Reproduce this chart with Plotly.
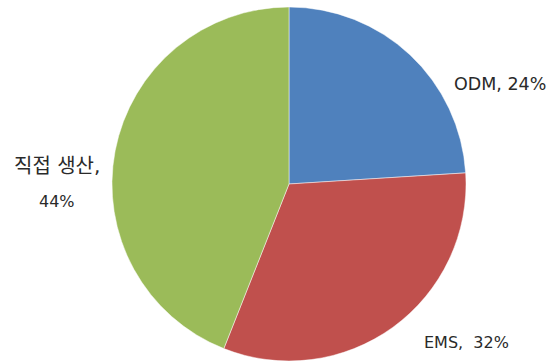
import plotly.graph_objects as go

labels = ["ODM", "EMS", "직접 생산"]
values = [24, 32, 44]
colors = ["#4F81BD", "#C0504D", "#9BBB59"]
label_lines = [["ODM, 24%"], ["EMS,  32%"], ["직접 생산,", "44%"]]
label_sizes = [[17.5], [16], [20, 16]]
label_x = [0.905, 0.846, 0.103]
label_y = [[0.768], [0.052], [0.54, 0.443]]

W, H = 552, 361
cx, cy, r = 289, 184, 177

fig = go.Figure(go.Pie(
    labels=labels, values=values, sort=False, direction="clockwise", rotation=0,
    marker=dict(colors=colors, line=dict(color="rgba(255,255,255,0.6)", width=0.8)),
    textinfo="none", hoverinfo="label+percent", showlegend=False,
    domain=dict(x=[(cx - r) / W, (cx + r) / W], y=[(H - cy - r) / H, (H - cy + r) / H]),
))

for lines, sizes, x, ys in zip(label_lines, label_sizes, label_x, label_y):
    for t, s, y in zip(lines, sizes, ys):
        fig.add_annotation(text=t, x=x, y=y, xref="paper", yref="paper", showarrow=False,
                           xanchor="center", yanchor="middle", align="center",
                           font=dict(family="DejaVu Sans, Noto Sans CJK KR", size=s, color="#2a2a2a"))

fig.update_layout(width=W, height=H, margin=dict(l=0, r=0, t=0, b=0),
                  paper_bgcolor="white", plot_bgcolor="white")
fig.write_html("out.html")
